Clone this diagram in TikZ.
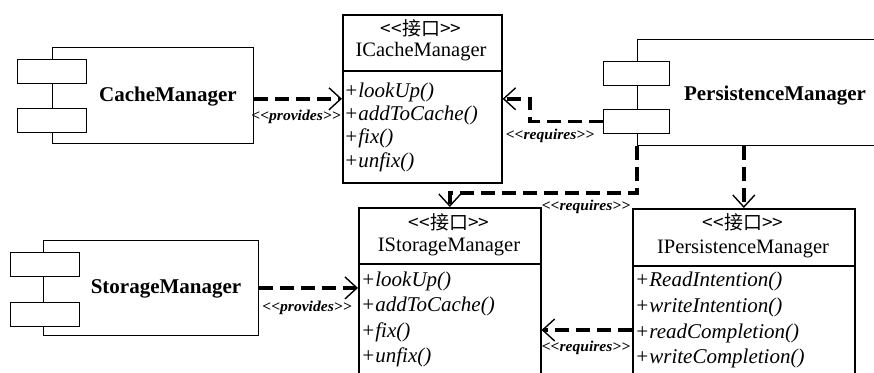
\documentclass[tikz,border=0pt]{standalone}
\usepackage{fontspec}
\setmainfont{Liberation Serif}
\newfontfamily\cjk{Noto Sans CJK SC}
\newfontfamily\stereofont{Liberation Serif}[FakeStretch=1.04]
\usetikzlibrary{arrows.meta,calc}

\begin{document}
\begin{tikzpicture}[x=1pt,y=-1pt,
  comp/.style={draw, line width=0.9pt, fill=white, inner sep=0pt, anchor=north west},
  port/.style={comp, minimum width=69, minimum height=24},
  cls/.style={draw, line width=1.6pt, inner sep=0pt, anchor=north west},
  divider/.style={line width=1.3pt},
  dep/.style={line width=3.8pt, dash pattern=on 14pt off 7pt,
    -{Straight Barb[length=12pt,width=22pt,line width=1.4pt]}},
  stereo/.style={font=\stereofont\bfseries\itshape\fontsize{15}{16}\selectfont, inner sep=0pt},
  complabel/.style={font=\bfseries\fontsize{21}{22}\selectfont, inner sep=0pt},
  kind/.style={font=\cjk\fontsize{19}{20}\selectfont, inner sep=0pt},
  clsname/.style={font=\fontsize{20.5}{22}\selectfont, inner sep=0pt},
  op/.style={font=\itshape\fontsize{21}{22}\selectfont, inner sep=0pt, anchor=west}
]
\useasboundingbox (0,0) rectangle (874,372);
\clip (0,0) rectangle (874,372);
\fill[white] (0,0) rectangle (874,372);

% ---------- components ----------
\node[comp, minimum width=201, minimum height=96] (cache) at (52,47) {};
\node[port] (cacheportA) at (17,59) {};
\node[port] (cacheportB) at (17,108) {};
\node[complabel] (cachelabel) at (168,97) {CacheManager};

\node[comp, minimum width=260, minimum height=106] (pers) at (637,39) {};
\node[port, minimum width=66] (persportA) at (603,61) {};
\node[port, minimum width=66] (persportB) at (603,109) {};
\node[complabel] (perslabel) at (775,96) {PersistenceManager};

\node[comp, minimum width=215, minimum height=95] (storage) at (43,240) {};
\node[port] (storportA) at (10,252) {};
\node[port] (storportB) at (10,302) {};
\node[complabel] (storlabel) at (166,289) {StorageManager};

% ---------- interfaces ----------
\node[cls, minimum width=159, minimum height=168] (icache) at (342,14) {};
\draw[divider] (342,71) -- (501,71);
\node[kind] (icachekind) at (421,28) {<<接口>>};
\node[clsname] (icachename) at (421,52) {ICacheManager};
\node[op] (icop1) at (344,92) {+lookUp()};
\node[op] (icop2) at (344,115) {+addToCache()};
\node[op] (icop3) at (344,138) {+fix()};
\node[op] (icop4) at (344,162) {+unfix()};

\node[cls, minimum width=182, minimum height=190] (istorage) at (358,207) {};
\draw[divider] (358,264) -- (540,264);
\node[kind] (iskind) at (449,222) {<<接口>>};
\node[clsname] (isname) at (449,247) {IStorageManager};
\node[op] (isop1) at (361,281) {+lookUp()};
\node[op] (isop2) at (361,306) {+addToCache()};
\node[op] (isop3) at (361,332) {+fix()};
\node[op] (isop4) at (361,357) {+unfix()};

\node[cls, minimum width=222, minimum height=190] (ipers) at (632,208) {};
\draw[divider] (632,266) -- (854,266);
\node[kind] (ipkind) at (743,222) {<<接口>>};
\node[clsname] (ipname) at (743,249) {IPersistenceManager};
\node[op] (ipop1) at (635,281) {+ReadIntention()};
\node[op] (ipop2) at (635,307) {+writeIntention()};
\node[op] (ipop3) at (635,333) {+readCompletion()};
\node[op] (ipop4) at (635,358) {+writeCompletion()};

% ---------- dependencies ----------
\draw[dep] (cache.east |- icache.west) -- (icache.west);
\node[stereo] (prov1) at (296,117) {<<provides>>};

\draw[dep] (persportB.west) -- ++(-73,0) |- (icache.east);
\node[stereo] (req1) at (550,136) {<<requires>>};

\draw[dep] (pers.south west) -- ++(0,47) -| (istorage.north);
\node[stereo] (req2) at (586,207) {<<requires>>};

\draw[dep] (pers.south -| ipers.north) -- (ipers.north);

\draw[dep] (storage.east) -- (storage.east -| istorage.west);
\node[stereo] (prov2) at (307,308) {<<provides>>};

\coordinate (reqfrom) at ($(ipers.north west)+(0,122)$);
\draw[dep] (reqfrom) -- (reqfrom -| istorage.east);
\node[stereo] (req3) at (586,348) {<<requires>>};
\end{tikzpicture}
\end{document}
